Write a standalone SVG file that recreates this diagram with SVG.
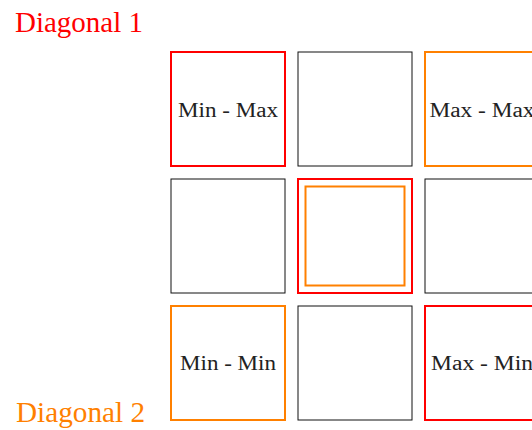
<svg xmlns="http://www.w3.org/2000/svg" width="532" height="430" viewBox="0 0 532 430">
  <style>
    .cell { fill: none; stroke: #111; stroke-width: 1; }
    .red { fill: none; stroke: #ff0000; stroke-width: 2; }
    .orange { fill: none; stroke: #ff8000; stroke-width: 2; }
    .lbl { font-family: "Liberation Serif", "DejaVu Serif", serif; font-size: 20px; fill: #222; text-anchor: middle; }
    .title { font-family: "Liberation Serif", "DejaVu Serif", serif; font-size: 30px; }
  </style>
  <rect width="532" height="430" fill="#fff"/>

  <text class="title" x="15" y="32" fill="#ff0000" textLength="128" lengthAdjust="spacingAndGlyphs">Diagonal 1</text>
  <text class="title" x="16" y="422" fill="#ff8000" textLength="129" lengthAdjust="spacingAndGlyphs">Diagonal 2</text>

  <!-- row 1 -->
  <g id="c00"><rect class="red" x="171" y="52" width="114" height="114"/>
    <text class="lbl" x="228" y="117" textLength="100" lengthAdjust="spacingAndGlyphs">Min - Max</text></g>
  <g id="c01"><rect class="cell" x="298" y="52" width="114" height="114"/></g>
  <g id="c02"><rect class="orange" x="425" y="52" width="114" height="114"/>
    <text class="lbl" x="482" y="117" textLength="105" lengthAdjust="spacingAndGlyphs">Max - Max</text></g>

  <!-- row 2 -->
  <g id="c10"><rect class="cell" x="171" y="179" width="114" height="114"/></g>
  <g id="c11"><rect class="red" x="298" y="179" width="114" height="114"/>
    <rect class="orange" x="305.5" y="186.5" width="99" height="99"/></g>
  <g id="c12"><rect class="cell" x="425" y="179" width="114" height="114"/></g>

  <!-- row 3 -->
  <g id="c20"><rect class="orange" x="171" y="306" width="114" height="114"/>
    <text class="lbl" x="228" y="370" textLength="96" lengthAdjust="spacingAndGlyphs">Min - Min</text></g>
  <g id="c21"><rect class="cell" x="298" y="306" width="114" height="114"/></g>
  <g id="c22"><rect class="red" x="425" y="306" width="114" height="114"/>
    <text class="lbl" x="482" y="370" textLength="102" lengthAdjust="spacingAndGlyphs">Max - Min</text></g>

  <g id="connectors"/>
</svg>
